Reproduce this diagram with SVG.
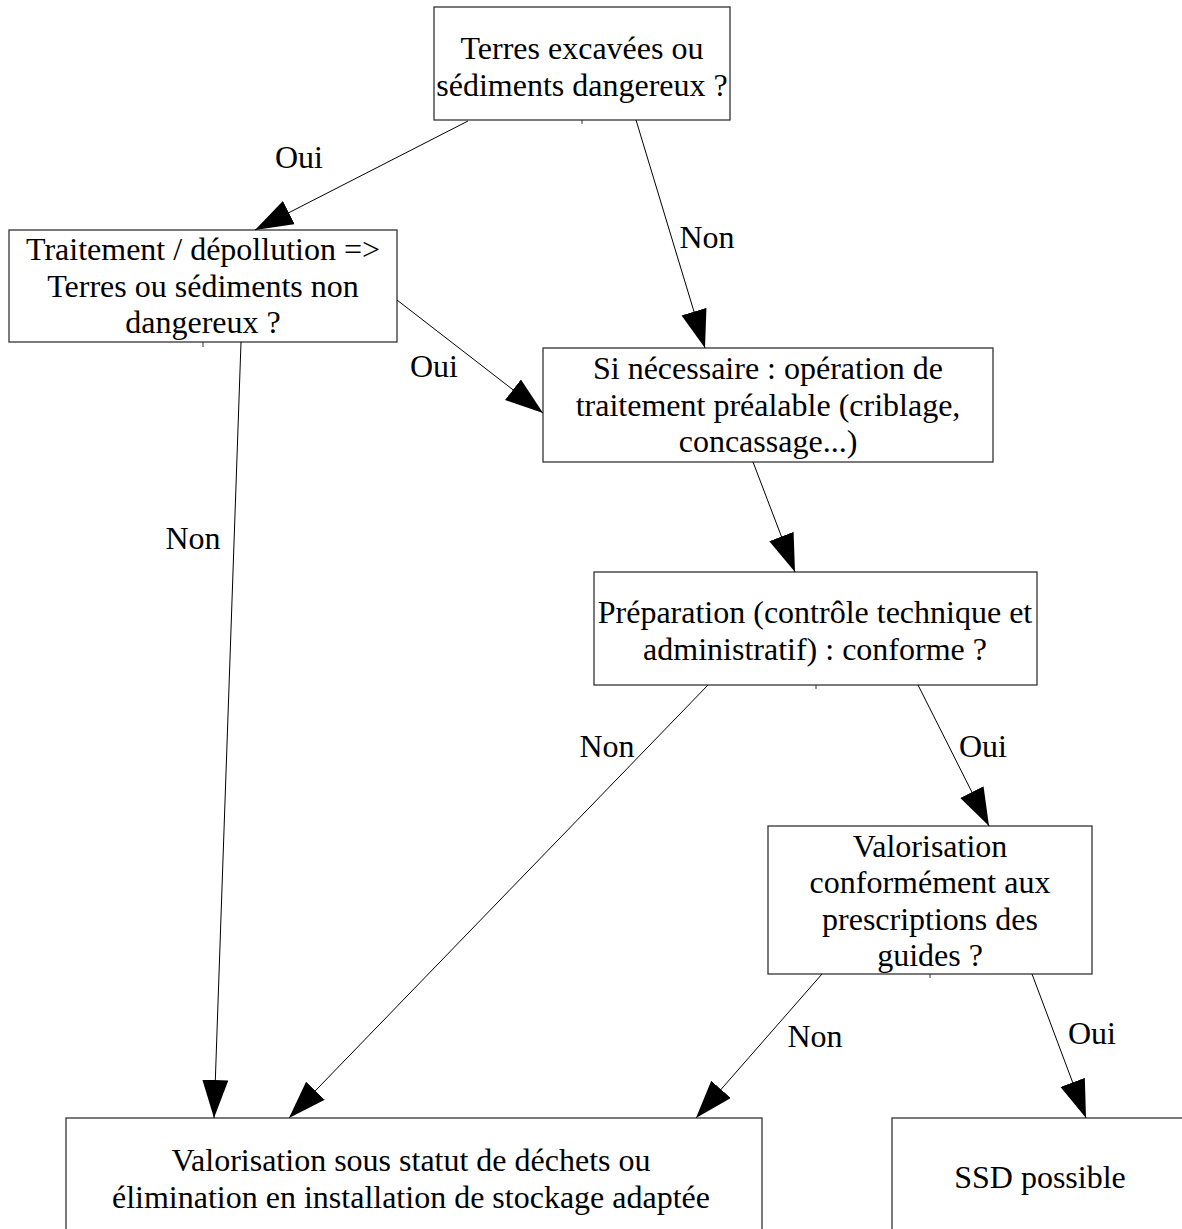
<svg xmlns="http://www.w3.org/2000/svg" width="1182" height="1229" viewBox="0 0 1182 1229">
<style>
  .box{fill:#fff;stroke:#333;stroke-width:1.3}
  .t{font-family:"Liberation Serif","Times New Roman",serif;font-size:32px;fill:#000;text-anchor:middle}
  .c{fill:none;stroke:#000;stroke-width:1}
  .tick{stroke:#333;stroke-width:1}
</style>
<defs>
  <marker id="arr" markerUnits="userSpaceOnUse" markerWidth="40" markerHeight="28" refX="38" refY="13" orient="auto" viewBox="0 0 40 28">
    <path d="M0,0 L38,13 L0,26 z" fill="#000"/>
  </marker>
</defs>
<rect width="1182" height="1229" fill="#fff"/>

<g id="n1">
  <rect class="box" x="434" y="7" width="296" height="113"/>
  <text class="t" x="582" y="59">Terres excavées ou</text>
  <text class="t" x="582" y="96">sédiments dangereux ?</text>
  <line class="tick" x1="582" y1="120" x2="582" y2="124"/>
</g>
<g id="n2">
  <rect class="box" x="9" y="230" width="388" height="112"/>
  <text class="t" x="203" y="260">Traitement / dépollution =&gt;</text>
  <text class="t" x="203" y="297">Terres ou sédiments non</text>
  <text class="t" x="203" y="333">dangereux ?</text>
  <line class="tick" x1="203" y1="342" x2="203" y2="347"/>
</g>
<g id="n3">
  <rect class="box" x="543" y="348" width="450" height="114"/>
  <text class="t" x="768" y="379">Si nécessaire : opération de</text>
  <text class="t" x="768" y="416">traitement préalable (criblage,</text>
  <text class="t" x="768" y="452">concassage...)</text>
</g>
<g id="n4">
  <rect class="box" x="594" y="572" width="443" height="113"/>
  <text class="t" x="815" y="623">Préparation (contrôle technique et</text>
  <text class="t" x="815" y="660">administratif) : conforme ?</text>
  <line class="tick" x1="816" y1="685" x2="816" y2="689"/>
</g>
<g id="n5">
  <rect class="box" x="768" y="826" width="324" height="148"/>
  <text class="t" x="930" y="857">Valorisation</text>
  <text class="t" x="930" y="893">conformément aux</text>
  <text class="t" x="930" y="930">prescriptions des</text>
  <text class="t" x="930" y="966">guides ?</text>
  <line class="tick" x1="930" y1="974" x2="930" y2="978"/>
</g>
<g id="n6">
  <rect class="box" x="66" y="1118" width="696" height="130"/>
  <text class="t" x="411" y="1171">Valorisation sous statut de déchets ou</text>
  <text class="t" x="411" y="1208">élimination en installation de stockage adaptée</text>
</g>
<g id="n7">
  <rect class="box" x="892" y="1118" width="297" height="130"/>
  <text class="t" x="1040" y="1188">SSD possible</text>
</g>

<g id="connectors">
  <line class="c" x1="468" y1="121" x2="255" y2="230" marker-end="url(#arr)"/>
  <line class="c" x1="636" y1="120" x2="705" y2="348" marker-end="url(#arr)"/>
  <line class="c" x1="397" y1="300" x2="543" y2="413" marker-end="url(#arr)"/>
  <line class="c" x1="241" y1="342" x2="214" y2="1118" marker-end="url(#arr)"/>
  <line class="c" x1="753" y1="462" x2="795" y2="572" marker-end="url(#arr)"/>
  <line class="c" x1="708" y1="685" x2="289" y2="1118" marker-end="url(#arr)"/>
  <line class="c" x1="918" y1="685" x2="989" y2="826" marker-end="url(#arr)"/>
  <line class="c" x1="822" y1="974" x2="696" y2="1118" marker-end="url(#arr)"/>
  <line class="c" x1="1032" y1="974" x2="1086" y2="1118" marker-end="url(#arr)"/>
  <text class="t" x="299" y="168">Oui</text>
  <text class="t" x="707" y="248">Non</text>
  <text class="t" x="434" y="377">Oui</text>
  <text class="t" x="193" y="549">Non</text>
  <text class="t" x="607" y="757">Non</text>
  <text class="t" x="983" y="757">Oui</text>
  <text class="t" x="815" y="1047">Non</text>
  <text class="t" x="1092" y="1044">Oui</text>
</g>
</svg>
